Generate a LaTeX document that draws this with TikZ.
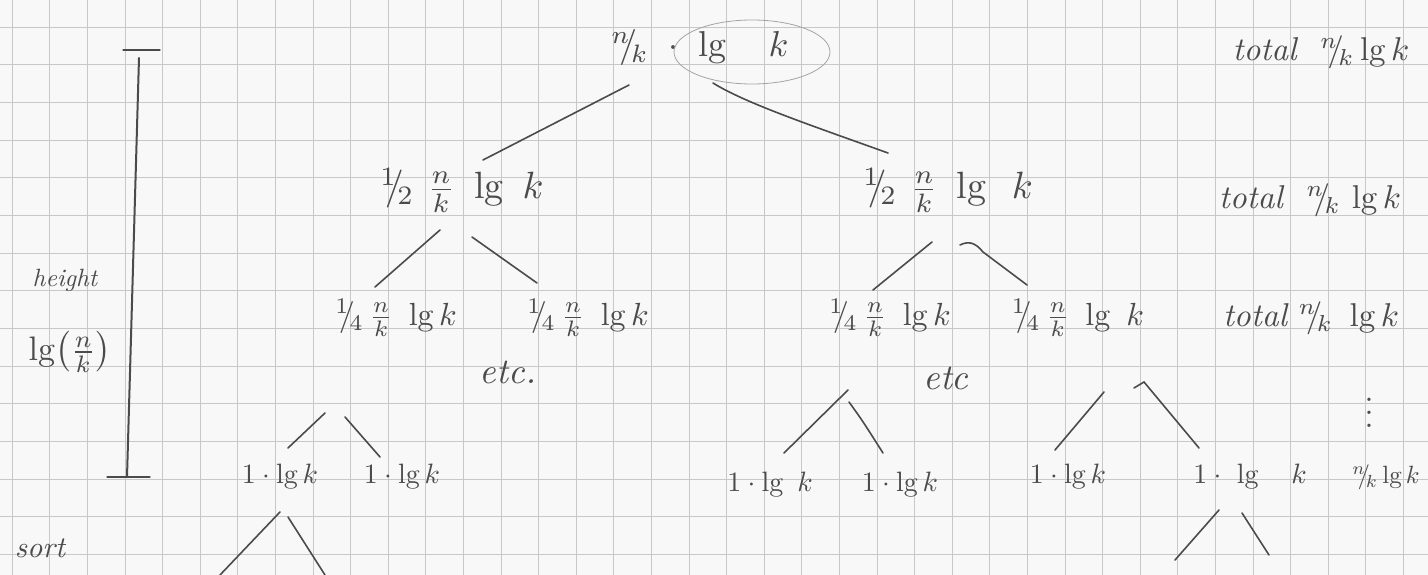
\documentclass[tikz,border=0pt]{standalone}
\usepackage{fontspec}
\definecolor{pencil}{HTML}{4B4B4B}
\definecolor{faint}{HTML}{A4A4A4}
\definecolor{gridc}{HTML}{C8C8C8}
\definecolor{paper}{HTML}{F8F8F8}
\newcommand{\slfr}[2]{{}^{#1}\!\!/\!_{#2}}
\newcommand{\sz}[2]{\scalebox{#1}{#2}}
\begin{document}
\begin{tikzpicture}[x=1pt,y=-1pt,
  edge/.style={draw=pencil,line width=1.6pt,line cap=round},
  thin edge/.style={draw=pencil,line width=1.2pt,line cap=round},
  lbl/.style={text=pencil,inner sep=0pt,anchor=center}]
\useasboundingbox (0,0) rectangle (1428,575);
\fill[paper] (0,0) rectangle (1428,575);
% grid paper
\foreach \i in {0,...,37} \draw[gridc,line width=1pt] ({12.3+37.6*\i},0) -- ({12.3+37.6*\i},575);
\foreach \j in {0,...,15} \draw[gridc,line width=1pt] (0,{-10.4+37.65*\j}) -- (1428,{-10.4+37.65*\j});

% root
\node[lbl] (top) at (700,48) {\sz{3.6}{$\slfr{n}{k}\ \cdot\ \lg\quad k$}};
\draw[faint,line width=0.8pt] (752,52) ellipse (78 and 32);
% level 2
\node[lbl] (l2a) at (462,190) {\sz{3.8}{$\slfr{1}{2}\ \frac{n}{k}\ \lg\ k$}};
\node[lbl] (l2b) at (948,190) {\sz{3.8}{$\slfr{1}{2}\ \frac{n}{k}\ \lg\ \,k$}};
% totals
\node[lbl] (t1) at (1321,52) {\sz{3.3}{\itshape total\ \ \upshape$\slfr{n}{k}\lg k$}};
\node[lbl] (t2) at (1310,200) {\sz{3.3}{\itshape total\ \ \upshape$\slfr{n}{k}\,\lg k$}};
\node[lbl] (t3) at (1311,318) {\sz{3.3}{\itshape total\ \upshape$\slfr{n}{k}\ \lg k$}};
\node[lbl] (vd) at (1369,403) {\sz{3.2}{$\vdots$}};
\node[lbl] (t4) at (1386,477) {\sz{2.5}{$\slfr{n}{k}\lg k$}};
% level 3
\node[lbl] (l3a) at (396,318) {\sz{3.2}{$\slfr{1}{4}\,\frac{n}{k}\ \lg k$}};
\node[lbl] (l3b) at (588,318) {\sz{3.2}{$\slfr{1}{4}\,\frac{n}{k}\ \lg k$}};
\node[lbl] (l3c) at (890,318) {\sz{3.2}{$\slfr{1}{4}\,\frac{n}{k}\ \lg k$}};
\node[lbl] (l3d) at (1078,318) {\sz{3.2}{$\slfr{1}{4}\,\frac{n}{k}\ \lg\ k$}};
\node[lbl] (etc1) at (508,372) {\sz{3.6}{\itshape etc.}};
\node[lbl] (etc2) at (946,378) {\sz{3.6}{\itshape etc}};
% level 4
\node[lbl] (l4a) at (280,477) {\sz{2.8}{$1\cdot\lg k$}};
\node[lbl] (l4b) at (402,477) {\sz{2.8}{$1\cdot\lg k$}};
\node[lbl] (l4c) at (770,485) {\sz{2.8}{$1\cdot\lg\ k$}};
\node[lbl] (l4d) at (900,485) {\sz{2.8}{$1\cdot\lg k$}};
\node[lbl] (l4e) at (1068,477) {\sz{2.8}{$1\cdot\lg k$}};
\node[lbl] (l4f) at (1250,477) {\sz{2.8}{$1\cdot\ \lg\ \ \ k$}};
% height bar
\node[lbl] (hgt) at (65,280) {\sz{2.5}{\itshape height}};
\node[lbl] (hlg) at (70,352) {\sz{3.4}{$\lg\bigl(\frac{n}{k}\bigr)$}};
\node[lbl] (srt) at (40,548) {\sz{3.0}{\itshape sort}};
\coordinate (bt1) at (123,50); \coordinate (bt2) at (160,50);
\coordinate (bv1) at (139,58); \coordinate (bv2) at (127,477);
\coordinate (bb1) at (107,477); \coordinate (bb2) at (150,477);
\draw[thin edge] (bt1) -- (bt2);
\draw[edge,line width=2pt] (bv1) -- (bv2);
\draw[thin edge] (bb1) -- (bb2);

% connectors level 1 -> 2
\coordinate (a1) at (629,85); \coordinate (a2) at (483,160);
\coordinate (b1) at (713,83); \coordinate (b2) at (888,153);
\draw[edge] (a1) -- (a2);
\draw[edge] (b1) .. controls (745,103) and (810,125) .. (b2);
% level 2 -> 3
\coordinate (c1) at (440,230); \coordinate (c2) at (375,287);
\coordinate (d1) at (472,237); \coordinate (d2) at (537,283);
\coordinate (e1) at (932,242); \coordinate (e2) at (873,290);
\coordinate (f1) at (960,245); \coordinate (f2) at (1027,285);
\draw[edge] (c1) -- (c2);
\draw[edge] (d1) -- (d2);
\draw[edge] (e1) -- (e2);
\draw[edge] (f1) .. controls (968,241) and (975,242) .. (983,252) -- (f2);
% level 3 -> 4
\coordinate (g1) at (325,413); \coordinate (g2) at (288,448);
\coordinate (h1) at (345,417); \coordinate (h2) at (380,457);
\coordinate (i1) at (848,390); \coordinate (i2) at (784,453);
\coordinate (j1) at (849,402); \coordinate (j2) at (883,453);
\coordinate (k1) at (1104,392); \coordinate (k2) at (1055,450);
\coordinate (m0) at (1134,388); \coordinate (m1) at (1144,382); \coordinate (m2) at (1199,448);
\draw[edge] (g1) -- (g2);
\draw[edge] (h1) -- (h2);
\draw[edge] (i1) -- (i2);
\draw[edge] (j1) .. controls (862,420) .. (j2);
\draw[edge] (k1) -- (k2);
\draw[edge] (m0) -- (m1) -- (m2);
% level 4 -> 5
\coordinate (n1) at (280,512); \coordinate (n2) at (220,575);
\coordinate (o1) at (288,517); \coordinate (o2) at (325,575);
\coordinate (p1) at (1219,510); \coordinate (p2) at (1175,560);
\coordinate (q1) at (1242,513); \coordinate (q2) at (1269,555);
\draw[edge] (n1) -- (n2);
\draw[edge] (o1) -- (o2);
\draw[edge] (p1) -- (p2);
\draw[edge] (q1) -- (q2);
\end{tikzpicture}
\end{document}
